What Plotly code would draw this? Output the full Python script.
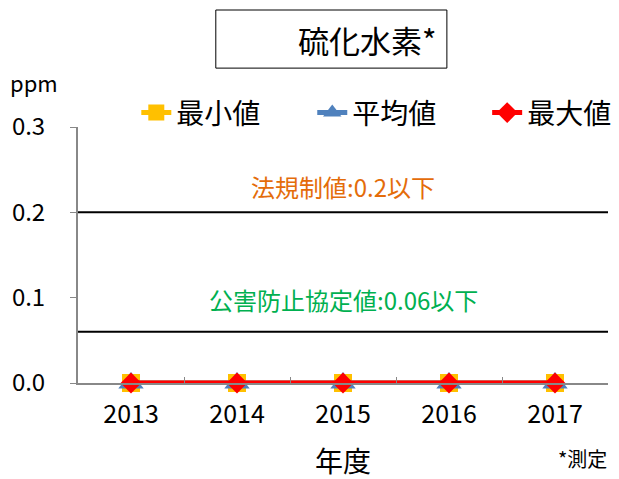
import plotly.graph_objects as go

years = ["2013", "2014", "2015", "2016", "2017"]
min_vals = [0, 0, 0, 0, 0]
avg_vals = [0, 0, 0, 0, 0]
max_vals = [0, 0, 0, 0, 0]
legal_limit = 0.2
agreement_limit = 0.06
y_ticks = [0.0, 0.1, 0.2, 0.3]

FONT = "Noto Sans CJK JP"

fig = go.Figure()
fig.add_trace(go.Scatter(x=years, y=min_vals, name="最小値", mode="lines+markers",
                         line=dict(color="#FFC000", width=5),
                         marker=dict(symbol="square", size=18, color="#FFC000"),
                         cliponaxis=False, legend="legend"))
fig.add_trace(go.Scatter(x=years, y=avg_vals, name="平均値", mode="lines+markers",
                         line=dict(color="#4F81BD", width=5),
                         marker=dict(symbol="triangle-up", size=22, color="#4F81BD"),
                         cliponaxis=False, legend="legend2"))
fig.add_trace(go.Scatter(x=years, y=max_vals, name="最大値", mode="lines+markers",
                         line=dict(color="#FF0000", width=5),
                         marker=dict(symbol="diamond", size=16, color="#FF0000"),
                         cliponaxis=False, legend="legend3"))

for yv in [legal_limit, agreement_limit]:
    fig.add_shape(type="line", xref="paper", yref="y", x0=0, x1=1, y0=yv, y1=yv,
                  line=dict(color="black", width=2), layer="below")

# title box
fig.add_shape(type="rect", xref="paper", yref="paper", x0=0.26, x1=0.696, y0=1.23, y1=1.457,
              line=dict(color="black", width=1), fillcolor="white", layer="below")
fig.add_annotation(text="硫化水素*", xref="paper", yref="paper", x=0.545, y=1.343,
                   xanchor="center", yanchor="middle",
                   showarrow=False, font=dict(size=31, color="black", family=FONT))

fig.add_annotation(text=f"法規制値:{legal_limit}以下", xref="paper", yref="y", x=0.5, y=0.2297,
                   xanchor="center", yanchor="middle",
                   showarrow=False, font=dict(size=24, color="#E46C0A", family=FONT))
fig.add_annotation(text=f"公害防止協定値:{agreement_limit}以下", xref="paper", yref="y", x=0.5, y=0.0984,
                   xanchor="center", yanchor="middle",
                   showarrow=False, font=dict(size=24, color="#00B050", family=FONT))

fig.add_annotation(text="ppm", xref="paper", yref="paper", x=-0.083, y=1.176,
                   xanchor="center", yanchor="middle",
                   showarrow=False, font=dict(size=22, color="black", family=FONT))
fig.add_annotation(text="年度", xref="paper", yref="paper", x=0.5, y=-0.30,
                   xanchor="center", yanchor="middle",
                   showarrow=False, font=dict(size=28, color="black", family=FONT))
fig.add_annotation(text="*測定", xref="paper", yref="paper", x=0.902, y=-0.295,
                   xanchor="left", yanchor="middle",
                   showarrow=False, font=dict(size=20, color="black", family=FONT))

leg_common = dict(orientation="h", y=1.055, xanchor="left", yanchor="middle",
                  font=dict(size=28, family=FONT), bgcolor="rgba(0,0,0,0)")

fig.update_layout(
    width=611, height=471,
    margin=dict(l=70, r=11, t=119, b=96, autoexpand=False),
    paper_bgcolor="white", plot_bgcolor="white",
    font=dict(family=FONT, color="black"),
    showlegend=True,
    legend=dict(x=0.11, **leg_common),
    legend2=dict(x=0.442, **leg_common),
    legend3=dict(x=0.772, **leg_common),
    xaxis=dict(type="category", range=[-0.5, 4.5], showline=True, linecolor="#888888", linewidth=2,
               ticks="inside", tickson="boundaries", ticklen=6, tickcolor="#888888",
               showgrid=False, zeroline=False, mirror=False,
               tickfont=dict(size=25, family=FONT), ticklabelstandoff=8),
    yaxis=dict(range=[0, 0.3], tickvals=y_ticks, tickformat=".1f",
               showline=True, linecolor="#888888", linewidth=2,
               ticks="outside", ticklen=6, tickcolor="#888888",
               showgrid=False, zeroline=False,
               tickfont=dict(size=24, family=FONT), ticklabelstandoff=20),
)

fig.write_html("out.html")
